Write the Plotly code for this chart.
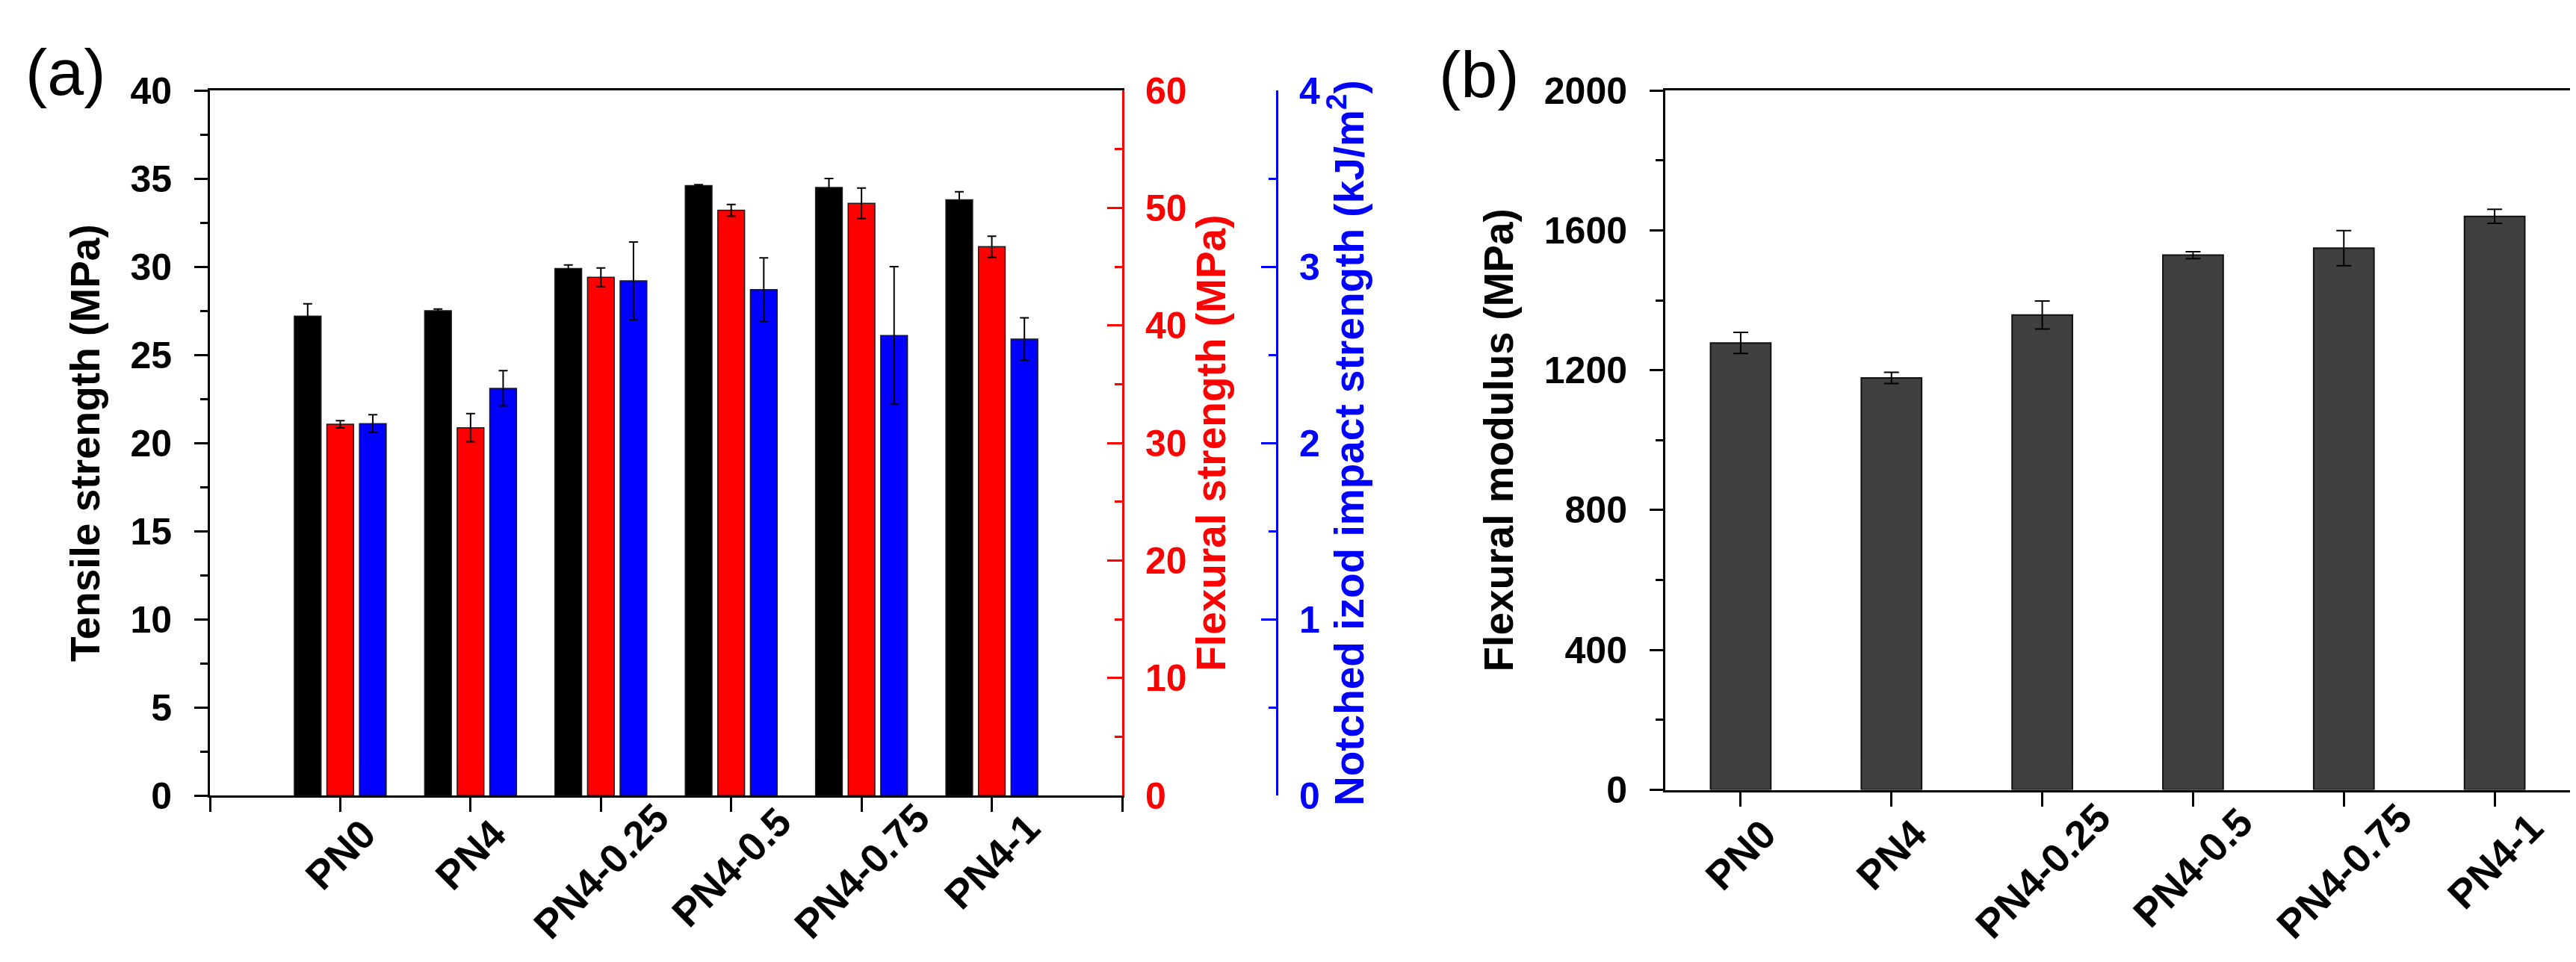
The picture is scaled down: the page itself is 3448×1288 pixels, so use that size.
import plotly.graph_objects as go

# data
categories = ['PN0', 'PN4', 'PN4-0.25', 'PN4-0.5', 'PN4-0.75', 'PN4-1']
tensile = [27.2, 27.5, 29.9, 34.6, 34.5, 33.8]
tensile_err = [0.7, 0.1, 0.2, 0.05, 0.5, 0.45]
flexural = [31.6, 31.3, 44.1, 49.8, 50.4, 46.7]
flexural_err = [0.3, 1.2, 0.8, 0.5, 1.3, 0.9]
impact = [2.11, 2.31, 2.92, 2.87, 2.61, 2.59]
impact_err = [0.05, 0.10, 0.22, 0.18, 0.39, 0.12]
modulus = [1278, 1178, 1358, 1529, 1549, 1640]
modulus_err = [30, 16, 40, 10, 50, 20]

W, H = 3448, 1288
FONT = 'Liberation Sans, Arial, sans-serif'
TICK = 50
CAT = 54
TITLE = 55
RED = '#FF0000'
BLUE = '#0000FF'

xpos = list(range(len(categories)))


def px(v):
    return v / W


def py(v):
    return 1 - v / H


fig = go.Figure()

# (a) three bars per sample, each on its own y axis
bar_w = 0.205
series = [
    (tensile, tensile_err, '#000000', 'y', -0.25),
    (flexural, flexural_err, RED, 'y2', 0.0),
    (impact, impact_err, BLUE, 'y3', 0.25),
]
for vals, errs, col, yax, shift in series:
    fig.add_trace(go.Bar(
        x=xpos, y=vals, xaxis='x', yaxis=yax,
        width=bar_w, offset=shift - bar_w / 2,
        marker=dict(color=col, line=dict(color='#1a1a1a', width=1.5)),
        error_y=dict(type='data', array=errs, color='black', thickness=2, width=6),
        showlegend=False,
    ))

# (b) flexural modulus
fig.add_trace(go.Bar(
    x=xpos, y=modulus, xaxis='x2', yaxis='y4',
    width=0.40,
    marker=dict(color='#404040', line=dict(color='#111111', width=2)),
    error_y=dict(type='data', array=modulus_err, color='black', thickness=2, width=10),
    showlegend=False,
))

axis_common = dict(showline=True, linewidth=3, showgrid=False, zeroline=False,
                   ticks='outside', tickwidth=3)

# rotated category labels, centred under each tick
annotations = []
for xref in ['x', 'x2']:
    for i, lab in enumerate(categories):
        annotations.append(dict(
            text=lab, x=xpos[i], xref=xref, y=py(1146 + 4.5 * len(lab)), yref='paper',
            textangle=-45, showarrow=False, xanchor='center', yanchor='middle',
            font=dict(size=CAT, family=FONT, color='black', weight='bold'),
        ))

annotations += [
    dict(text='(a)', x=px(80), y=py(64), xref='paper', yref='paper',
         xanchor='center', yanchor='middle',
         showarrow=False, font=dict(size=88, family=FONT, color='black')),
    dict(text='(b)', x=px(1972), y=py(67), xref='paper', yref='paper',
         xanchor='center', yanchor='middle',
         showarrow=False, font=dict(size=88, family=FONT, color='black')),
]

fig.update_layout(
    width=W, height=H,
    paper_bgcolor='white', plot_bgcolor='white',
    margin=dict(l=0, r=0, t=0, b=0),
    font=dict(family=FONT, color='black'),
    xaxis=dict(
        **axis_common, linecolor='black', domain=[px(273), px(1494)],
        range=[-1, 6], anchor='y', mirror=True,
        tickvals=[-1] + xpos + [6], showticklabels=False,
        ticklen=19, tickcolor='black',
    ),
    yaxis=dict(
        **axis_common, linecolor='black', domain=[py(1077), py(90)],
        range=[0, 40], tickvals=list(range(0, 41, 5)), ticklen=18, tickcolor='black',
        tickfont=dict(size=TICK, family=FONT, weight='bold'),
        ticklabelstandoff=20,
        minor=dict(ticks='outside', ticklen=10, tickwidth=3, dtick=2.5, tickcolor='black'),
        title=dict(text='Tensile strength (MPa)', standoff=24,
                   font=dict(size=TITLE, family=FONT, weight='bold')),
    ),
    yaxis2=dict(
        showline=True, linewidth=3, linecolor=RED, showgrid=False, zeroline=False,
        overlaying='y', side='right', anchor='x', range=[0, 60],
        tickvals=list(range(0, 61, 10)), ticks='inside', ticklen=20, tickwidth=3,
        tickcolor=RED, ticklabelstandoff=18,
        tickfont=dict(size=TICK, family=FONT, weight='bold', color=RED),
        minor=dict(ticks='inside', ticklen=10, tickwidth=3, dtick=5, tickcolor=RED),
        title=dict(text='Flexural strength (MPa)', standoff=14,
                   font=dict(size=TITLE, family=FONT, weight='bold', color=RED)),
    ),
    yaxis3=dict(
        showline=True, linewidth=3, linecolor=BLUE, showgrid=False, zeroline=False,
        overlaying='y', side='right', anchor='free', position=px(1701), range=[0, 4],
        tickvals=[0, 1, 2, 3, 4], ticks='inside', ticklen=20, tickwidth=3,
        tickcolor=BLUE, ticklabelstandoff=18,
        tickfont=dict(size=TICK, family=FONT, weight='bold', color=BLUE),
        minor=dict(ticks='inside', ticklen=10, tickwidth=3, dtick=0.5, tickcolor=BLUE),
        title=dict(text='Notched izod impact strength (kJ/m<sup>2</sup>)', standoff=14,
                   font=dict(size=TITLE, family=FONT, weight='bold', color=BLUE)),
    ),
    xaxis2=dict(
        **axis_common, linecolor='black', domain=[px(2221), px(3432)],
        range=[-0.5, 5.5], anchor='y4', mirror=True,
        tickvals=xpos, showticklabels=False,
        ticklen=19, tickcolor='black',
    ),
    yaxis4=dict(
        **axis_common, linecolor='black', domain=[py(1069), py(90)],
        anchor='x2', mirror=True, range=[0, 2000],
        tickvals=list(range(0, 2001, 400)), ticklen=18, tickcolor='black',
        tickfont=dict(size=TICK, family=FONT, weight='bold'),
        ticklabelstandoff=20,
        minor=dict(ticks='outside', ticklen=10, tickwidth=3, dtick=200, tickcolor='black'),
        title=dict(text='Flexural modulus (MPa)', standoff=24,
                   font=dict(size=TITLE, family=FONT, weight='bold')),
    ),
    annotations=annotations,
)

fig.write_html('out.html')
